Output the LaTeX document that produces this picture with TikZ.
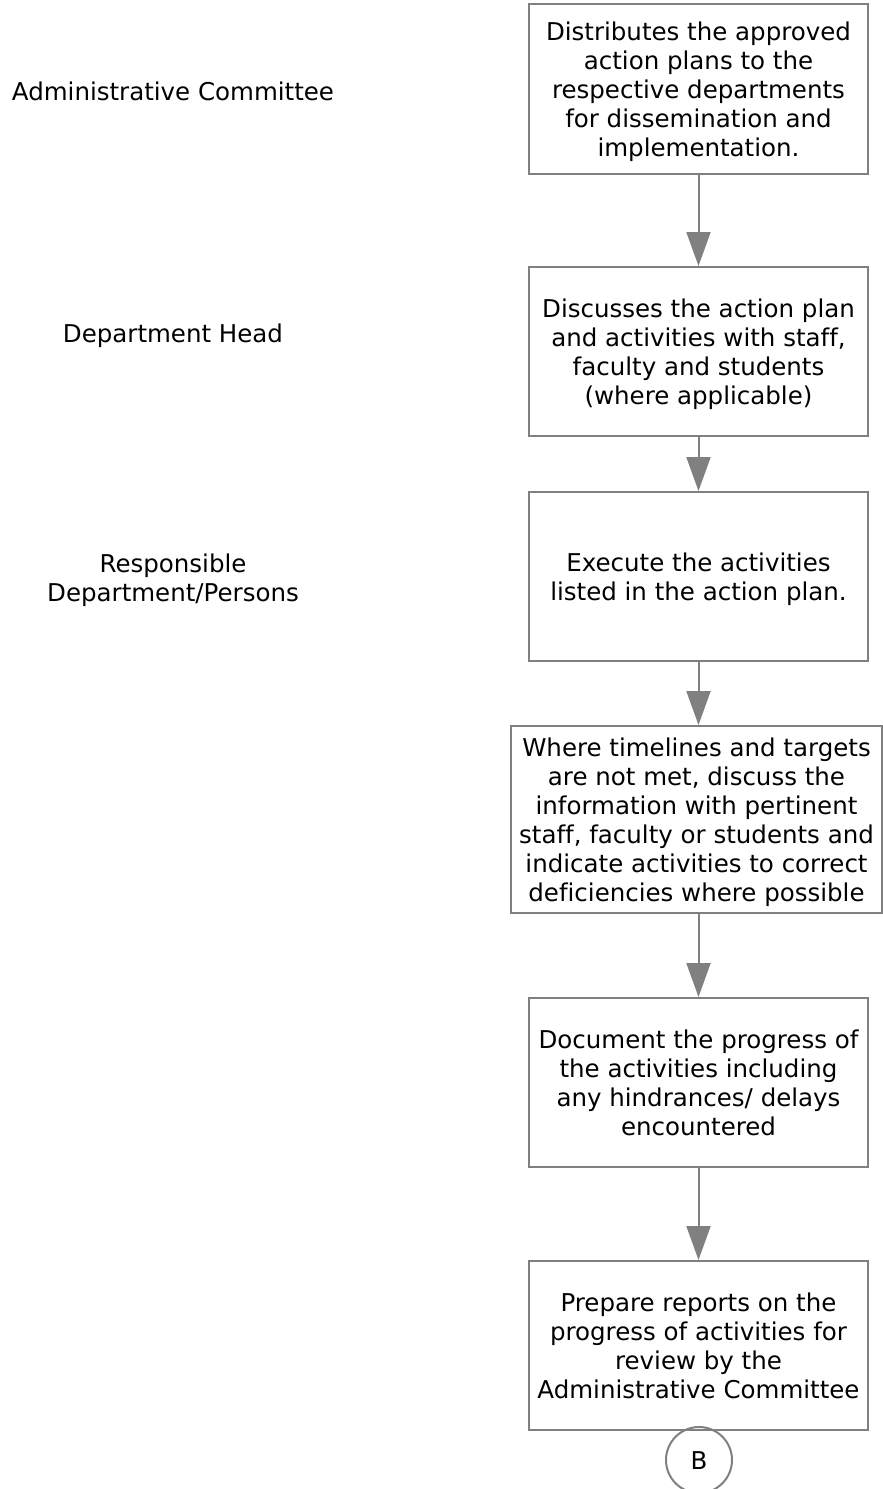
\documentclass[tikz,border=0pt]{standalone}
\usepackage{fontspec}
\setmainfont[Ligatures=NoCommon]{DejaVu Sans}
\usetikzlibrary{arrows.meta}
\definecolor{edge}{HTML}{808080}
% centred block of lines, set a little low so the text sits optically centred
\newcommand\boxtext[1]{\raisebox{-3.5pt}[\height][\depth]{\begin{tabular}{@{}c@{}}#1\end{tabular}}}
\begin{document}
\begin{tikzpicture}[x=1pt,y=-1pt,
  every node/.style={font=\fontsize{24.5}{29}\selectfont, text=black, inner sep=0pt},
  stepbox/.style={draw=edge, line width=2pt, fill=white, minimum width=339pt, minimum height=170pt},
  flow/.style={draw=edge, line width=2pt, -{Triangle[width=24pt,length=34pt]}, fill=edge},
  role/.style={}]
\useasboundingbox (0,0) rectangle (883,1489);

% lane labels
\node[role] (r1) at (173,91) {\boxtext{Administrative Committee}};
\node[role] (r2) at (173,333) {\boxtext{Department Head}};
\node[role] (r3) at (173,577.5) {\boxtext{Responsible\\Department/Persons}};

% process steps
\node[stepbox] (s1) at (698.5,89) {\boxtext{Distributes the approved\\action plans to the\\respective departments\\for dissemination and\\implementation.}};
\node[stepbox, minimum height=169pt] (s2) at (698.5,351.5) {\boxtext{Discusses the action plan\\and activities with staff,\\faculty and students\\(where applicable)}};
\node[stepbox, minimum height=169pt] (s3) at (698.5,576.5) {\boxtext{Execute the activities\\listed in the action plan.}};
\node[stepbox, minimum width=371pt, minimum height=187pt] (s4) at (696.5,819.5) {\boxtext{Where timelines and targets\\are not met, discuss the\\information with pertinent\\staff, faculty or students and\\indicate activities to correct\\deficiencies where possible}};
\node[stepbox, minimum height=169pt] (s5) at (698.5,1082.5) {\boxtext{Document the progress of\\the activities including\\any hindrances/ delays\\encountered}};
\node[stepbox, minimum height=169pt] (s6) at (698.5,1345.5) {\boxtext{Prepare reports on the\\progress of activities for\\review by the\\Administrative Committee}};

% off-page connector
\node[draw=edge, line width=2pt, circle, minimum size=66pt] (b) at (699,1460) {\boxtext{B}};

% connectors
\draw[flow] (s1.south) -- (s2.north);
\draw[flow] (s2.south) -- (s3.north);
\draw[flow] (s3.south) -- (s3.south |- s4.north);
\draw[flow] (s4.south -| s5.north) -- (s5.north);
\draw[flow] (s5.south) -- (s6.north);
\end{tikzpicture}
\end{document}
